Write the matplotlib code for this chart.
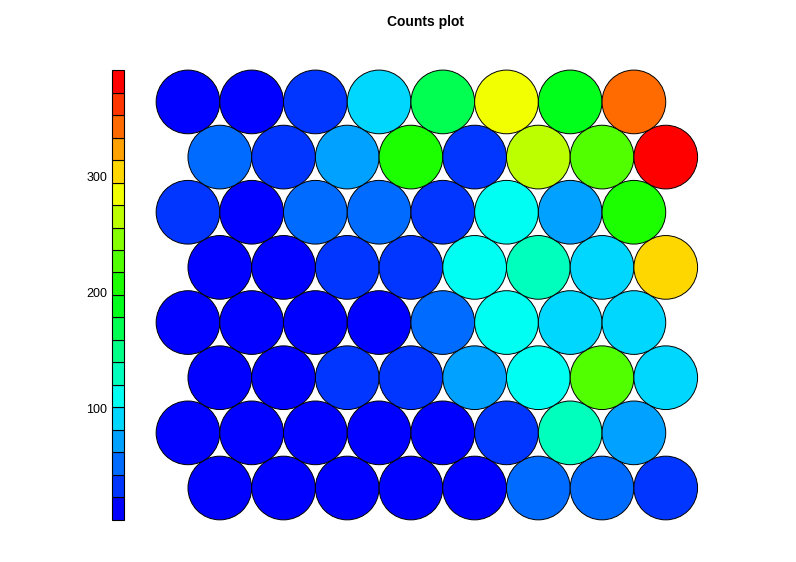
import numpy as np
import matplotlib
matplotlib.use("Agg")
import matplotlib.pyplot as plt
from matplotlib.patches import Circle, Rectangle
from matplotlib.colors import hsv_to_rgb

plt.rcParams['font.family'] = ['Liberation Sans', 'DejaVu Sans']

# SOM grid 8 x 8 hexagonal; counts per unit, row by row from the bottom row
xdim = 8
ydim = 8
counts_row1 = [5, 3, 9, 7, 12, 50, 54, 33]
counts_row2 = [10, 8, 6, 14, 11, 35, 128, 72]
counts_row3 = [13, 9, 30, 34, 70, 112, 225, 92]
counts_row4 = [15, 12, 8, 17, 56, 108, 95, 88]
counts_row5 = [16, 11, 36, 31, 106, 131, 93, 305]
counts_row6 = [29, 18, 55, 49, 38, 115, 75, 208]
counts_row7 = [52, 27, 68, 211, 32, 266, 229, 391]
counts_row8 = [19, 14, 37, 97, 165, 284, 190, 343]
counts = np.array(counts_row1 + counts_row2 + counts_row3 + counts_row4 +
                  counts_row5 + counts_row6 + counts_row7 + counts_row8, dtype=float)

ncolors = 20
title = "Counts plot"

# palette: reversed rainbow(n, end=4/6)
hues = np.linspace(0, 4 / 6, ncolors)[::-1]
palette = [hsv_to_rgb((h, 1, 1)) for h in hues]

# grid points
gx, gy = np.meshgrid(np.arange(1, xdim + 1), np.arange(1, ydim + 1))
gx = gx.ravel().astype(float)
gy = gy.ravel().astype(float)
gx = gx + 0.5 * (gy % 2)
gy = gy * np.sqrt(3) / 2

zlim = (counts.min(), counts.max())
breaks = np.linspace(zlim[0], zlim[1], ncolors + 1)
idx = np.clip(np.searchsorted(breaks, counts, side='left') - 1, 0, ncolors - 1)

fig = plt.figure(figsize=(7.96, 5.62), dpi=100)
ax = fig.add_axes([0.0761, 0.0335, 0.8803, 0.9066])
ax.set_xlim(-1, 10)
ax.set_ylim(0, 8)
ax.axis('off')

for x, y, k in zip(gx, gy, idx):
    ax.add_patch(Circle((x, y), 0.5, facecolor=palette[k], edgecolor='black', linewidth=0.7))

# heat key
yrange = (gy.min(), gy.max())
yleft = np.linspace(yrange[0] - 0.5, yrange[1] + 0.5, ncolors + 1)
xl, xr = -0.2, 0.0
for i in range(ncolors):
    ax.add_patch(Rectangle((xl, yleft[i]), xr - xl, yleft[i + 1] - yleft[i],
                           facecolor=palette[i], edgecolor='black', linewidth=0.8, clip_on=False))

tick_vals = [100, 200, 300]
for v in tick_vals:
    yy = yleft[0] + (v - zlim[0]) / (zlim[1] - zlim[0]) * (yleft[-1] - yleft[0])
    ax.text(xl - 0.07, yy - 0.04, str(v), ha='right', va='center', fontsize=9, color='black')

fig.text(0.535, 1 - 22 / 562, title, ha='center', va='center', fontsize=10, fontweight='bold')

fig.savefig("out.png", dpi=100)
